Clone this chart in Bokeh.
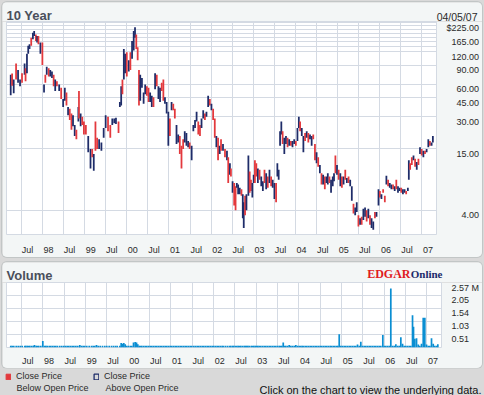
from bokeh.core.properties import value
from bokeh.embed import file_html
from bokeh.layouts import column, row
from bokeh.models import (ColumnDataSource, CustomJSTickFormatter, FixedTicker, Label,
                          Legend, LegendItem, Range1d, Spacer)
from bokeh.plotting import figure
from bokeh.resources import INLINE
from bokeh.transform import factor_cmap

# ---------------- data ----------------
dates = [
    1997.249, 1997.282, 1997.320, 1997.376, 1997.423, 1997.470, 1997.517, 1997.578, 1997.601, 1997.634,
    1997.664, 1997.695, 1997.735, 1997.775, 1997.805, 1997.845, 1997.875, 1997.906, 1997.953, 1998.000,
    1998.039, 1998.070, 1998.103, 1998.150, 1998.187, 1998.227, 1998.267, 1998.304, 1998.344, 1998.398,
    1998.445, 1998.492, 1998.532, 1998.571, 1998.609, 1998.649, 1998.689, 1998.726, 1998.766, 1998.806,
    1998.853, 1998.867, 1998.907, 1998.946, 1998.984, 1999.031, 1999.087, 1999.141, 1999.181, 1999.218,
    1999.258, 1999.298, 1999.345, 1999.399, 1999.453, 1999.500, 1999.556, 1999.610, 1999.657, 1999.704,
    1999.744, 1999.805, 1999.837, 1999.868, 1999.898, 1999.931, 1999.961, 2000.001, 2000.048, 2000.086,
    2000.126, 2000.165, 2000.196, 2000.226, 2000.259, 2000.290, 2000.320, 2000.360, 2000.400, 2000.437,
    2000.477, 2000.517, 2000.555, 2000.594, 2000.634, 2000.672, 2000.712, 2000.751, 2000.789, 2000.829,
    2000.868, 2000.906, 2000.946, 2000.986, 2001.023, 2001.063, 2001.103, 2001.140, 2001.180, 2001.220,
    2001.258, 2001.298, 2001.337, 2001.375, 2001.415, 2001.455, 2001.492, 2001.539, 2001.579, 2001.619,
    2001.656, 2001.696, 2001.736, 2001.773, 2001.813, 2001.853, 2001.890, 2001.930, 2001.970, 2002.008,
    2002.048, 2002.087, 2002.125, 2002.165, 2002.204, 2002.235, 2002.282, 2002.329, 2002.376, 2002.406,
    2002.446, 2002.470, 2002.509, 2002.547, 2002.580, 2002.610, 2002.641, 2002.680, 2002.720, 2002.751,
    2002.774, 2002.805, 2002.838, 2002.884, 2002.915, 2002.945, 2002.978, 2003.009, 2003.039, 2003.072,
    2003.109, 2003.149, 2003.189, 2003.227, 2003.266, 2003.306, 2003.344, 2003.384, 2003.423, 2003.461,
    2003.501, 2003.541, 2003.571, 2003.602, 2003.635, 2003.665, 2003.696, 2003.736, 2003.775, 2003.813,
    2003.852, 2003.892, 2003.930, 2003.970, 2004.009, 2004.047, 2004.080, 2004.110, 2004.150, 2004.188,
    2004.228, 2004.267, 2004.305, 2004.345, 2004.384, 2004.422, 2004.462, 2004.501, 2004.539, 2004.579,
    2004.618, 2004.656, 2004.696, 2004.736, 2004.767, 2004.806, 2004.844, 2004.884, 2004.914, 2004.947,
    2004.985, 2005.024, 2005.064, 2005.101, 2005.141, 2005.181, 2005.219, 2005.259, 2005.298, 2005.336,
    2005.376, 2005.416, 2005.453, 2005.493, 2005.533, 2005.570, 2005.610, 2005.650, 2005.688, 2005.728,
    2005.767, 2005.805, 2005.845, 2005.884, 2005.922, 2005.969, 2006.002, 2006.039, 2006.079, 2006.119,
    2006.156, 2006.196, 2006.236, 2006.274, 2006.314, 2006.353, 2006.391, 2006.431, 2006.470, 2006.508,
    2006.548, 2006.588, 2006.625, 2006.665, 2006.688, 2006.719, 2006.759, 2006.799, 2006.836, 2006.876,
    2006.916, 2006.953, 2006.993, 2007.033, 2007.071, 2007.110, 2007.150, 2007.188, 2007.228, 2007.258,
]

highs = [
    73.5, 75.5, 66.3, 93.8, 81.6, 66.3, 76.2, 93.8, 84.5, 115.5,
    137.3, 142, 163, 181, 188, 175, 169, 169, 147, 147,
    59.7, 73.5, 87.5, 84.5, 81.6, 78.8, 73.5, 66.3, 64.0, 59.7,
    55.6, 43.7, 55.6, 50.3, 36.8, 35.5, 32.0, 30.9, 25.0, 22.6,
    36.8, 52.0, 32.0, 29.9, 26.9, 25.0, 19.7, 14.9, 14.9, 13.4,
    26.9, 19.0, 18.4, 17.2, 23.4, 30.9, 29.9, 25.0, 28.8, 28.8,
    29.2, 26.9, 41.0, 57.6, 66.3, 128, 115.5, 119.5, 100.5, 119.5,
    152, 188, 204, 175, 133, 81.6, 73.5, 68.7, 50.3, 59.7,
    57.6, 55.6, 50.3, 46.8, 45.3, 76.2, 73.5, 57.6, 55.6, 61.9,
    66.3, 45.3, 41.0, 33.2, 28.8, 41.0, 39.4, 35.5, 25.0, 20.4,
    19.7, 16.0, 18.4, 21.9, 21.1, 17.7, 17.2, 16.0, 25.0, 27.9,
    33.2, 26.9, 25.0, 28.8, 34.3, 32.0, 33.2, 46.8, 43.7, 39.4,
    35.5, 28.8, 19.7, 19.0, 16.0, 18.4, 16.6, 14.9, 14.4, 12.5,
    11.0, 9.85, 7.46, 7.2, 6.72, 7.2, 6.97, 6.5, 6.28, 5.66,
    4.75, 5.46, 5.66, 13.0, 9.19, 7.73, 7.2, 8.57, 11.7, 11.0,
    9.85, 9.55, 8.28, 7.46, 9.55, 8.88, 8.28, 9.55, 8.28, 7.73,
    7.2, 7.2, 11.0, 9.55, 21.9, 26.9, 21.9, 19.0, 19.7, 19.0,
    18.4, 17.7, 17.7, 18.4, 17.7, 23.4, 29.9, 26.9, 23.4, 19.7,
    21.1, 21.9, 21.1, 20.4, 19.7, 20.4, 16.6, 13.9, 12.5, 10.6,
    8.88, 8.57, 8.28, 8.28, 8.88, 8.28, 7.73, 8.28, 8.88, 13.0,
    10.6, 9.55, 8.88, 8.28, 8.28, 9.55, 7.99, 8.28, 7.73, 6.72,
    4.6, 4.26, 4.75, 3.6, 3.37, 3.48, 4.14, 4.26, 4.0, 4.14,
    3.6, 3.37, 3.14, 3.86, 3.86, 6.28, 6.06, 5.66, 6.28, 5.46,
    8.4, 7.73, 7.2, 6.97, 6.97, 6.72, 7.73, 6.72, 6.5, 6.5,
    6.28, 6.28, 6.06, 6.5, 11.7, 11.0, 12.5, 13.0, 12.1, 11.3,
    12.1, 15.5, 14.9, 14.4, 14.4, 14.9, 18.4, 17.7, 17.2, 19.7,
]

lows = [
    47.5, 58.0, 49.5, 66.3, 61.9, 57.6, 61.9, 73.5, 64.0, 76.2,
    115.5, 128, 137, 158, 169, 152, 147, 142, 115.5, 90.6,
    50.3, 61.9, 73.5, 71.0, 71.0, 68.7, 57.6, 52.0, 57.6, 52.0,
    43.7, 36.8, 42.2, 38.0, 30.9, 27.9, 22.6, 24.3, 19.7, 18.4,
    26.9, 28.8, 24.3, 25.0, 20.4, 20.4, 13.9, 9.85, 12.5, 9.38,
    14.4, 14.9, 14.9, 14.4, 19.0, 23.4, 21.9, 19.0, 25.0, 26.0,
    25.5, 21.1, 36.8, 38.0, 48.5, 66.3, 76.2, 71.0, 78.8, 81.6,
    104, 124, 163, 128, 100.5, 38.0, 42.2, 55.6, 39.4, 48.5,
    46.8, 41.0, 41.0, 36.8, 36.8, 53.8, 57.6, 43.7, 41.0, 52.0,
    42.2, 39.4, 32.0, 16.0, 19.7, 34.3, 34.3, 28.8, 16.6, 17.2,
    13.4, 9.85, 14.9, 17.2, 16.0, 15.5, 14.9, 11.7, 21.9, 23.4,
    26.9, 20.4, 19.7, 23.4, 28.8, 27.9, 29.9, 36.8, 38.0, 34.3,
    27.9, 19.0, 15.5, 11.7, 13.4, 14.4, 14.4, 12.5, 11.7, 7.2,
    8.6, 8.28, 5.84, 4.44, 4.0, 6.5, 5.66, 5.66, 5.46, 3.37,
    2.74, 3.6, 4.0, 5.46, 5.84, 6.06, 5.27, 7.2, 7.2, 8.28,
    7.2, 7.73, 6.72, 6.06, 7.2, 6.28, 6.5, 7.2, 6.72, 6.5,
    5.1, 4.75, 8.28, 7.73, 16.0, 20.4, 16.6, 13.4, 16.6, 15.5,
    16.0, 16.0, 15.5, 16.6, 16.0, 17.7, 23.4, 21.9, 19.7, 13.9,
    17.7, 19.0, 17.2, 18.4, 16.0, 18.4, 11.7, 11.0, 10.2, 8.88,
    6.97, 6.97, 6.28, 7.2, 6.97, 7.2, 5.84, 6.72, 7.46, 8.88,
    8.57, 7.73, 6.72, 6.5, 6.97, 7.73, 7.2, 7.2, 6.72, 4.92,
    3.74, 3.6, 3.86, 2.83, 2.93, 2.93, 3.25, 3.48, 3.14, 3.37,
    2.93, 2.74, 2.64, 3.37, 3.48, 4.44, 5.27, 5.1, 5.84, 4.75,
    6.97, 6.72, 6.5, 6.28, 6.28, 6.06, 6.28, 5.84, 6.06, 5.84,
    5.66, 5.84, 5.66, 6.06, 7.73, 9.55, 10.6, 11.7, 10.2, 9.55,
    10.6, 13.4, 13.0, 12.5, 13.4, 13.9, 15.5, 16.0, 16.0, 17.2,
]

# "d": close below open (red), "u": close above open (navy)
direction = [
    "u", "d", "u", "d", "u", "u", "d", "u", "d", "u",
    "u", "u", "d", "u", "u", "d", "u", "d", "u", "d",
    "u", "d", "u", "d", "u", "u", "d", "u", "d", "u",
    "d", "u", "u", "d", "u", "d", "d", "u", "u", "d",
    "u", "d", "u", "d", "d", "d", "u", "u", "d", "u",
    "d", "d", "u", "u", "u", "u", "d", "d", "u", "u",
    "u", "d", "u", "u", "d", "u", "u", "d", "u", "d",
    "u", "u", "u", "d", "d", "d", "u", "u", "u", "u",
    "d", "d", "u", "u", "d", "u", "d", "u", "u", "d",
    "d", "u", "u", "u", "d", "u", "d", "d", "u", "u",
    "d", "d", "d", "u", "u", "u", "d", "u", "u", "u",
    "u", "d", "d", "u", "u", "d", "u", "u", "d", "u",
    "d", "d", "u", "d", "u", "d", "u", "d", "u", "d",
    "u", "d", "u", "d", "d", "u", "u", "u", "d", "u",
    "u", "d", "u", "u", "d", "d", "u", "u", "d", "d",
    "u", "d", "u", "u", "d", "u", "d", "u", "d", "u",
    "u", "d", "u", "u", "u", "u", "d", "u", "u", "d",
    "u", "d", "u", "u", "d", "u", "u", "d", "u", "u",
    "d", "u", "d", "u", "u", "d", "d", "u", "d", "u",
    "d", "u", "d", "u", "u", "d", "u", "u", "u", "d",
    "u", "d", "u", "d", "u", "d", "u", "d", "u", "u",
    "d", "u", "u", "d", "u", "d", "u", "u", "d", "u",
    "d", "u", "u", "d", "u", "u", "d", "u", "d", "d",
    "u", "d", "u", "u", "d", "u", "d", "u", "u", "d",
    "u", "u", "d", "u", "u", "d", "d", "u", "d", "u",
    "d", "u", "d", "u", "d", "u", "u", "d", "u", "u",
]

# volume in millions of shares
volume_m = [
    0.07, 0.07, 0.07, 0.07, 0.07, 0.07, 0.07, 0.07, 0.07, 0.07,
    0.07, 0.07, 0.07, 0.07, 0.10, 0.07, 0.07, 0.07, 0.07, 0.26,
    0.07, 0.07, 0.07, 0.07, 0.07, 0.07, 0.07, 0.07, 0.07, 0.07,
    0.07, 0.07, 0.07, 0.07, 0.07, 0.07, 0.07, 0.07, 0.07, 0.07,
    0.07, 0.10, 0.07, 0.07, 0.07, 0.07, 0.07, 0.07, 0.07, 0.07,
    0.10, 0.07, 0.07, 0.07, 0.07, 0.07, 0.07, 0.07, 0.07, 0.07,
    0.07, 0.07, 0.18, 0.15, 0.18, 0.13, 0.07, 0.07, 0.07, 0.07,
    0.20, 0.22, 0.20, 0.13, 0.07, 0.07, 0.07, 0.07, 0.07, 0.07,
    0.07, 0.07, 0.07, 0.07, 0.07, 0.07, 0.07, 0.07, 0.07, 0.07,
    0.07, 0.07, 0.07, 0.07, 0.07, 0.07, 0.07, 0.07, 0.07, 0.07,
    0.07, 0.07, 0.07, 0.07, 0.07, 0.07, 0.07, 0.07, 0.07, 0.07,
    0.07, 0.07, 0.07, 0.07, 0.07, 0.07, 0.07, 0.07, 0.07, 0.07,
    0.07, 0.07, 0.07, 0.07, 0.07, 0.07, 0.07, 0.07, 0.07, 0.07,
    0.07, 0.07, 0.07, 0.07, 0.07, 0.07, 0.07, 0.07, 0.07, 0.07,
    0.07, 0.07, 0.07, 0.07, 0.07, 0.07, 0.07, 0.07, 0.07, 0.07,
    0.07, 0.07, 0.07, 0.07, 0.07, 0.07, 0.07, 0.07, 0.07, 0.07,
    0.07, 0.07, 0.07, 0.07, 0.20, 0.07, 0.07, 0.07, 0.10, 0.07,
    0.07, 0.07, 0.10, 0.07, 0.07, 0.07, 0.07, 0.07, 0.07, 0.07,
    0.07, 0.07, 0.07, 0.07, 0.07, 0.07, 0.07, 0.07, 0.07, 0.07,
    0.07, 0.07, 0.07, 0.07, 0.07, 0.07, 0.07, 0.07, 0.07, 0.52,
    0.07, 0.07, 0.07, 0.07, 0.07, 0.07, 0.07, 0.07, 0.07, 0.07,
    0.12, 0.07, 0.23, 0.07, 0.07, 0.07, 0.07, 0.07, 0.07, 0.07,
    0.07, 0.07, 0.07, 0.07, 0.07, 0.49, 0.07, 0.07, 0.07, 0.07,
    2.33, 0.07, 0.07, 0.13, 0.07, 0.07, 0.41, 0.15, 0.07, 0.07,
    0.07, 0.07, 0.07, 1.28, 0.82, 0.35, 0.37, 0.12, 0.07, 0.15,
    1.18, 1.18, 0.12, 0.07, 0.07, 0.37, 0.15, 0.07, 0.07, 0.13,
]

x_tick_values = [1997.5, 1998.0, 1998.5, 1999.0, 1999.5, 2000.0, 2000.5, 2001.0, 2001.5, 2002.0,
                 2002.5, 2003.0, 2003.5, 2004.0, 2004.5, 2005.0, 2005.5, 2006.0, 2006.5, 2007.0]
x_tick_labels = ["Jul", "98", "Jul", "99", "Jul", "00", "Jul", "01", "Jul", "02",
                 "Jul", "03", "Jul", "04", "Jul", "05", "Jul", "06", "Jul", "07"]

price_grid_values = [4, 15, 30, 45, 60, 90, 120, 135, 150, 165, 180, 195, 210, 225]
price_tick_values = [4, 15, 30, 45, 60, 90, 120, 165, 225]
price_tick_labels = ["4.00", "15.00", "30.00", "45.00", "60.00", "90.00", "120.00", "165.00", "$225.00"]

vol_tick_values = [0.514, 1.028, 1.542, 2.056, 2.57]
vol_tick_labels = ["0.51", "1.03", "1.54", "2.05", "2.57 M"]

title_text = "10 Year"
date_text = "04/05/07"
volume_title = "Volume"
legend_main = ["Close Price", "Close Price"]
legend_sub = ["Below Open Price", "Above Open Price"]
footer_text = "Click on the chart to view the underlying data."

# ---------------- styling ----------------
FONT = "Liberation Sans"
SERIF = "Liberation Serif"
RED = "#e3393d"
NAVY = "#1e2c69"
BLUE = "#0a8ed2"
PANEL = "#f3f6f6"
OUTER = "#d9d9d9"
GRID = "#d4dae3"
TXT = "#2a2a2a"
TITLE_C = "#4a4f5b"
PANEL_STYLE = {"box-shadow": "0 0 0 1px #c2c6c6", "border-radius": "5px", "overflow": "hidden"}

X_START, X_END = 1997.149, 2007.344
P_MIN, P_MAX = 2.38, 231.0
V_MIN, V_MAX = 0.0, 2.57

PRICE_LABEL_SHIFT = 0.896  # labels sit ~5px below their grid line (log scale factor)
VOL_LABEL_SHIFT = 0.192    # same idea on the linear volume scale (millions)
X_LABEL_SHIFT = 0.145      # month/year labels sit just right of their grid line

PANEL_W = 480


def lookup_formatter(pos, labs, pad=0):
    return CustomJSTickFormatter(args=dict(pos=pos, labs=labs, pad=pad), code="""
        let best = 0, bd = Infinity;
        for (let i = 0; i < pos.length; i++) {
            const d = Math.abs(pos[i] - tick);
            if (d < bd) { bd = d; best = i; }
        }
        let s = labs[best];
        while (s.length < pad) { s = "\\u2007" + s; }
        return s;
    """)


def style_axes(fig, standoff_x, standoff_y):
    for ax in fig.axis:
        ax.axis_line_color = None
        ax.major_tick_line_color = None
        ax.minor_tick_line_color = None
        ax.major_label_text_font = FONT
        ax.major_label_text_font_size = "9px"
        ax.major_label_text_color = TXT
    fig.xaxis.major_label_standoff = standoff_x
    fig.yaxis.major_label_standoff = standoff_y
    fig.grid.grid_line_color = GRID
    fig.grid.grid_line_width = 1


def strip(width, height, fill):
    # a text-only strip whose data units are pixels
    return figure(width=width, height=height, x_range=Range1d(0, width), y_range=Range1d(0, height),
                  x_axis_type=None, y_axis_type=None, title=None,
                  min_border_left=0, min_border_right=0, min_border_top=0, min_border_bottom=0,
                  output_backend="svg", toolbar_location=None, outline_line_color=None,
                  border_fill_color=fill, background_fill_color=fill)


# ---------------- price panel ----------------
src = ColumnDataSource(dict(date=dates, high=highs, low=lows, direction=direction))

p = figure(width=PANEL_W, height=236, x_range=Range1d(X_START, X_END), y_range=Range1d(P_MIN, P_MAX),
           y_axis_type="log", y_axis_location="right", title=None,
           output_backend="svg", toolbar_location=None,
           min_border_left=4, min_border_right=41, min_border_top=0, min_border_bottom=16,
           border_fill_color=PANEL, background_fill_color="white", outline_line_color=GRID)
p.vbar(x="date", bottom="low", top="high", width=0.042, source=src, line_color=None,
       fill_color=factor_cmap("direction", palette=[RED, NAVY], factors=["d", "u"]))

ppos = [v * PRICE_LABEL_SHIFT for v in price_tick_values]
p.yaxis.ticker = FixedTicker(ticks=ppos)
p.yaxis.formatter = lookup_formatter(ppos, price_tick_labels, pad=7)
p.ygrid.ticker = FixedTicker(ticks=price_grid_values)

ph = strip(PANEL_W, 19, PANEL)
ph.add_layout(Label(x=4, y=6.5, text=title_text, text_font=FONT, text_font_style="bold",
                    text_font_size="13px", text_color=TITLE_C, text_align="left",
                    text_baseline="alphabetic"))
ph.add_layout(Label(x=475, y=5, text=date_text, text_font=FONT, text_font_size="10.5px",
                    text_color=TXT, text_align="right", text_baseline="alphabetic"))

# ---------------- volume panel ----------------
vsrc = ColumnDataSource(dict(date=dates, volume=volume_m))
pv = figure(width=PANEL_W, height=86, x_range=p.x_range, y_range=Range1d(V_MIN, V_MAX),
            y_axis_location="right", title=None, output_backend="svg", toolbar_location=None,
            min_border_left=4, min_border_right=41, min_border_top=0, min_border_bottom=15,
            border_fill_color=PANEL, background_fill_color="white", outline_line_color=GRID)
pv.vbar(x="date", top="volume", bottom=0, width=0.04, source=vsrc, fill_color=BLUE, line_color=None)

vpos = [v - VOL_LABEL_SHIFT for v in vol_tick_values]
pv.yaxis.ticker = FixedTicker(ticks=vpos)
pv.yaxis.formatter = lookup_formatter(vpos, vol_tick_labels)
pv.ygrid.ticker = FixedTicker(ticks=vol_tick_values)

vh = strip(PANEL_W, 20, PANEL)
vh.add_layout(Label(x=4, y=7, text=volume_title, text_font=FONT, text_font_style="bold",
                    text_font_size="13px", text_color=TITLE_C, text_align="left",
                    text_baseline="alphabetic"))
vh.add_layout(Label(x=408, y=8.5, text="EDGAR", text_font=SERIF, text_font_style="bold",
                    text_font_size="12px", text_color="#e01b22", text_align="right",
                    text_baseline="alphabetic"))
vh.add_layout(Label(x=440, y=8.5, text="Online", text_font=SERIF, text_font_style="bold",
                    text_font_size="11px", text_color="#1b2a6a", text_align="right",
                    text_baseline="alphabetic"))

xpos = [t + X_LABEL_SHIFT for t in x_tick_values]
for fig in (p, pv):
    fig.xaxis.ticker = FixedTicker(ticks=xpos)
    fig.xaxis.formatter = lookup_formatter(xpos, x_tick_labels)
    fig.xgrid.ticker = FixedTicker(ticks=x_tick_values)

style_axes(p, 4, 4)
style_axes(pv, 2, 4)

# ---------------- legend strip ----------------
pl = strip(484, 27, OUTER)
nan = float("nan")
r_dn = pl.vbar(x=[nan], top=[nan], width=6, fill_color=RED, line_color=RED)
r_up = pl.vbar(x=[nan], top=[nan], width=6, fill_color=OUTER, line_color=NAVY, line_width=1.3)
legend = Legend(items=[LegendItem(label=value(legend_main[0]), renderers=[r_dn]),
                       LegendItem(label=value(legend_main[1]), renderers=[r_up])],
                orientation="horizontal", location=(5, 14), padding=0, margin=0, spacing=31,
                glyph_width=6, glyph_height=7, label_standoff=5, label_height=8,
                label_text_font=FONT, label_text_font_size="9px", label_text_color=TXT,
                border_line_color=None, background_fill_alpha=0)
pl.add_layout(legend)
for sub_x, sub_text in zip([16, 105], legend_sub):
    pl.add_layout(Label(x=sub_x, y=8, text=sub_text, text_font=FONT, text_font_size="9px",
                        text_color=TXT, text_align="left", text_baseline="alphabetic"))
pl.add_layout(Label(x=481, y=5.5, text=footer_text, text_font=FONT, text_font_size="11px",
                    text_color="#111111", text_align="right", text_baseline="alphabetic"))

# each plot sits in its own row so that no two plots share a column (no frame alignment)
price_panel = column(row(ph), row(p), styles=PANEL_STYLE)
vol_panel = column(row(vh), row(pv), styles=PANEL_STYLE)

layout = column(
    Spacer(width=484, height=2),
    row(Spacer(width=2, height=255), price_panel, Spacer(width=2, height=255)),
    Spacer(width=484, height=5),
    row(Spacer(width=2, height=106), vol_panel, Spacer(width=2, height=106)),
    row(pl),
    styles={"background-color": OUTER},
)

open("out.html", "w").write(file_html(layout, INLINE))
